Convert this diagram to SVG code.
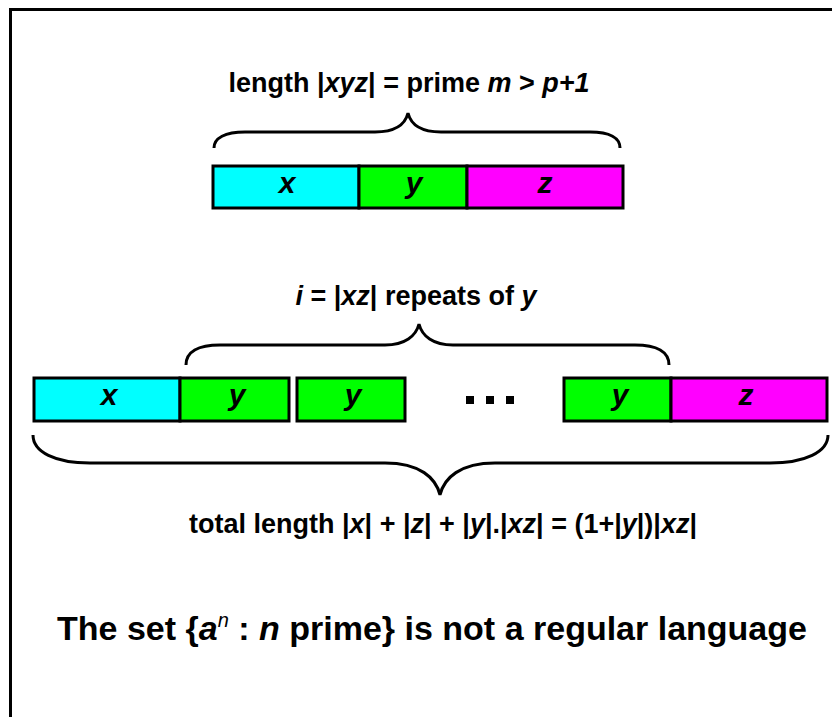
<svg xmlns="http://www.w3.org/2000/svg" width="832" height="717" viewBox="0 0 832 717">
<style>
.t{font-family:"Liberation Sans",Arial,sans-serif;font-weight:bold;fill:#000}
.bx{stroke:#000;stroke-width:3}
.cy{fill:#00ffff}.gr{fill:#00ff00}.mg{fill:#ff00ff}
.br{fill:none;stroke:#000;stroke-width:3}
.lb{font-family:"Liberation Sans",Arial,sans-serif;font-weight:bold;font-style:italic;font-size:30px;text-anchor:middle}
</style>
<rect x="0" y="0" width="832" height="717" fill="#fff"/>
<rect x="10.5" y="9.5" width="830" height="720" fill="none" stroke="#000" stroke-width="3"/>
<g id="top-label"><text class="t" x="409" y="92" font-size="27" text-anchor="middle">length |<tspan font-style="italic">xyz</tspan>| = prime <tspan font-style="italic">m</tspan> &gt; <tspan font-style="italic">p+1</tspan></text></g>
<g id="top-x"><rect class="bx cy" x="213" y="166" width="146" height="42"/><text class="lb" x="287" y="193">x</text></g>
<g id="top-y"><rect class="bx gr" x="359" y="166" width="108" height="42"/><text class="lb" x="414" y="193">y</text></g>
<g id="top-z"><rect class="bx mg" x="467" y="166" width="156" height="42"/><text class="lb" x="545" y="193">z</text></g>
<g id="mid-label"><text class="t" x="416" y="305" font-size="27" text-anchor="middle"><tspan font-style="italic">i</tspan> = |<tspan font-style="italic">xz</tspan>| repeats of <tspan font-style="italic">y</tspan></text></g>
<g id="mid-x"><rect class="bx cy" x="34" y="378" width="146" height="43"/><text class="lb" x="109" y="405">x</text></g>
<g id="mid-y1"><rect class="bx gr" x="180" y="378" width="109" height="43"/><text class="lb" x="237" y="405">y</text></g>
<g id="mid-y2"><rect class="bx gr" x="297" y="378" width="108" height="43"/><text class="lb" x="353" y="405">y</text></g>
<g id="dots"><rect x="466" y="396" width="8" height="8"/><rect x="486" y="396" width="8" height="8"/><rect x="506" y="396" width="8" height="8"/></g>
<g id="mid-y3"><rect class="bx gr" x="564" y="378" width="107" height="43"/><text class="lb" x="620" y="405">y</text></g>
<g id="mid-z"><rect class="bx mg" x="671" y="378" width="156" height="43"/><text class="lb" x="746" y="405">z</text></g>
<g id="bottom-label"><text class="t" x="443" y="533" font-size="27" text-anchor="middle">total length |<tspan font-style="italic">x</tspan>| + |<tspan font-style="italic">z</tspan>| + |<tspan font-style="italic">y</tspan>|.|<tspan font-style="italic">xz</tspan>| = (1+|<tspan font-style="italic">y</tspan>|)|<tspan font-style="italic">xz</tspan>|</text></g>
<g id="conclusion"><text class="t" x="432" y="640" font-size="34" text-anchor="middle">The set {<tspan font-style="italic">a</tspan><tspan font-style="italic" font-weight="normal" font-size="20" dy="-13">n</tspan><tspan dy="13"> : </tspan><tspan font-style="italic">n</tspan> prime} is not a regular language</text></g>
<g id="braces">
<path class="br" d="M214,148 C214,138 225,132 245,132 L375,132 C395,132 405,125 408,113 C411,125 421,132 441,132 L590,132 C610,132 620,138 620,148"/>
<path class="br" d="M186,365 C186,352 198,345 220,345 L385,345 C405,345 416,336 419,324 C422,336 433,345 453,345 L635,345 C657,345 669,352 669,365"/>
<path class="br" d="M33,435 C33,452 55,463 90,463 L385,463 C420,463 436,478 440,495 C444,478 460,463 495,463 L770,463 C805,463 828,452 828,435"/>
</g>
</svg>
